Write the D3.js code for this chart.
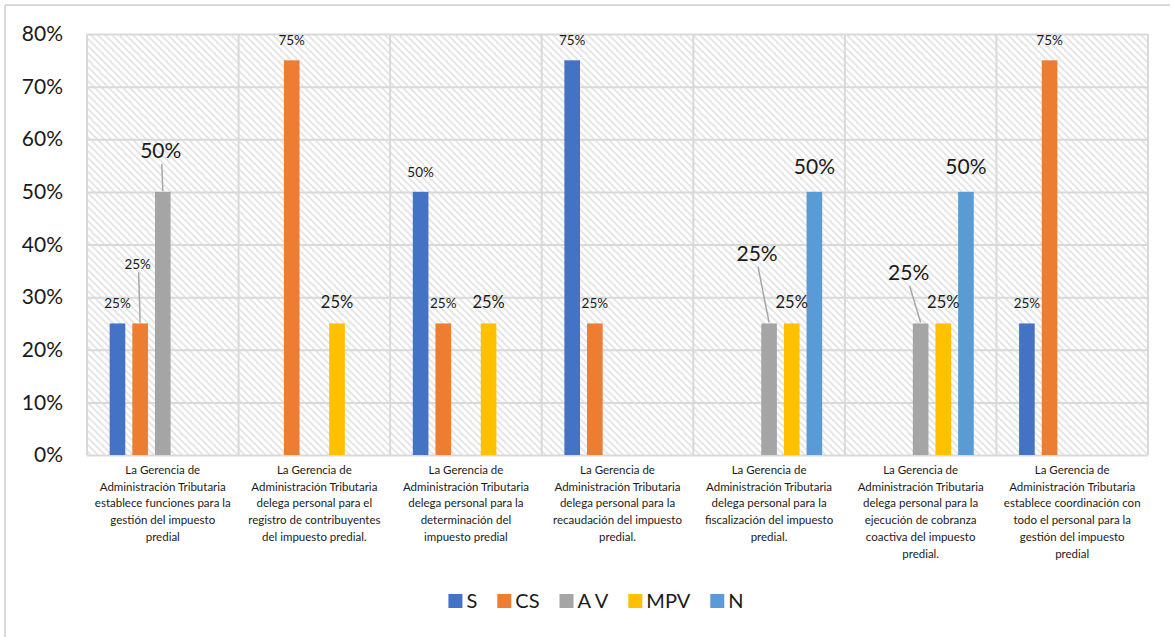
<!DOCTYPE html>
<html>
<head>
<meta charset="utf-8">
<script src="https://cdn.jsdelivr.net/npm/d3@7"></script>
<style>
  html, body { margin: 0; padding: 0; background: #fff; }
  svg { display: block; font-family: Lato, "Open Sans", sans-serif; }
</style>
</head>
<body>
<svg id="chart" width="1174" height="637"></svg>
<script>
// Categories (line breaks follow the axis label wrapping)
const categories = [
  "La Gerencia de\nAdministración Tributaria\nestablece funciones para la\ngestión del impuesto\npredial",
  "La Gerencia de\nAdministración Tributaria\ndelega personal para el\nregistro de contribuyentes\ndel impuesto predial.",
  "La Gerencia de\nAdministración Tributaria\ndelega personal para la\ndeterminación del\nimpuesto predial",
  "La Gerencia de\nAdministración Tributaria\ndelega personal para la\nrecaudación del impuesto\npredial.",
  "La Gerencia de\nAdministración Tributaria\ndelega personal para la\nfiscalización del impuesto\npredial.",
  "La Gerencia de\nAdministración Tributaria\ndelega personal para la\nejecución de cobranza\ncoactiva del impuesto\npredial.",
  "La Gerencia de\nAdministración Tributaria\nestablece coordinación con\ntodo el personal para la\ngestión del impuesto\npredial"
];

const seriesNames = ["S", "CS", "A V", "MPV", "N"];

// Percentages per series, one value per category
const valuesS   = [25, 0, 50, 75, 0, 0, 25];
const valuesCS  = [25, 75, 25, 25, 0, 0, 75];
const valuesAV  = [50, 0, 0, 0, 25, 25, 0];
const valuesMPV = [0, 25, 25, 0, 25, 25, 0];
const valuesN   = [0, 0, 0, 0, 50, 50, 0];

const yTicks = [0, 10, 20, 30, 40, 50, 60, 70, 80];

const seriesValues = [valuesS, valuesCS, valuesAV, valuesMPV, valuesN];
const colors = ["#4472C4", "#ED7D31", "#A5A5A5", "#FFC000", "#5B9BD5"];

// Data label appearance: font size class and optional offset (for labels moved away with a leader line)
const labelSize = { small: 13.5, medium: 16.5, large: 21 };
const labelStyle = {
  "0-1": { size: "small", dx: -2.5, dy: -59.5, leader: true },
  "0-2": { size: "large", dx: -2, dy: -41, leader: true },
  "1-3": { size: "medium", dy: -21 },
  "2-3": { size: "medium", dy: -21 },
  "4-2": { size: "large", dx: -12, dy: -69.5, leader: true },
  "4-3": { size: "medium", dy: -21 },
  "4-4": { size: "large", dy: -25 },
  "5-2": { size: "large", dx: -12, dy: -50.5, leader: true },
  "5-3": { size: "medium", dy: -21 },
  "5-4": { size: "large", dy: -25 }
};

const svg = d3.select("#chart");
const plot = { left: 87, right: 1148, top: 34, bottom: 455 };

// Outer frame (top and left edges)
svg.append("line").attr("x1", 5).attr("x2", 1170).attr("y1", 5).attr("y2", 5)
  .attr("stroke", "#d9d9d9").attr("stroke-width", 2);
svg.append("line").attr("x1", 5).attr("x2", 5).attr("y1", 5).attr("y2", 637)
  .attr("stroke", "#d9d9d9").attr("stroke-width", 2);

// Downward diagonal hatch for the plot background
const defs = svg.append("defs");
const pat = defs.append("pattern").attr("id", "hatch")
  .attr("patternUnits", "userSpaceOnUse").attr("width", 7).attr("height", 7);
pat.append("rect").attr("width", 7).attr("height", 7).attr("fill", "#fff");
pat.append("path")
  .attr("d", "M-2,-2 L9,9 M-2,5 L2,9 M5,-2 L9,2")
  .attr("stroke", "#e4e4e4").attr("stroke-width", 1.8);

const y = d3.scaleLinear().domain([0, 80]).range([plot.bottom, plot.top]);
const x0 = d3.scaleBand().domain(d3.range(categories.length))
  .range([plot.left, plot.right]).padding(0);
const x1 = d3.scaleBand().domain(d3.range(seriesNames.length))
  .range([0, x0.bandwidth()]).paddingInner(0.31).paddingOuter(1.0);

svg.append("rect")
  .attr("x", plot.left).attr("y", plot.top)
  .attr("width", plot.right - plot.left).attr("height", plot.bottom - plot.top)
  .attr("fill", "url(#hatch)");

// Horizontal gridlines
svg.append("g")
  .attr("transform", `translate(${plot.left},0)`)
  .call(d3.axisLeft(y).tickValues(yTicks).tickSize(-(plot.right - plot.left)).tickFormat(""))
  .call(g => g.select(".domain").remove())
  .call(g => g.selectAll("line").attr("stroke", "#d9d9d9").attr("stroke-width", 2));

// Vertical gridlines at category boundaries
const bounds = d3.range(categories.length + 1).map(i =>
  i < categories.length ? x0(i) : x0(categories.length - 1) + x0.bandwidth());
svg.append("g").selectAll("line").data(bounds).join("line")
  .attr("x1", d => d).attr("x2", d => d)
  .attr("y1", plot.top).attr("y2", plot.bottom)
  .attr("stroke", "#d9d9d9").attr("stroke-width", 2);

// Y axis labels
svg.append("g")
  .attr("transform", `translate(${plot.left},0)`)
  .call(d3.axisLeft(y).tickValues(yTicks).tickSize(0).tickPadding(24).tickFormat(d => d + "%"))
  .call(g => g.select(".domain").remove())
  .call(g => g.selectAll("text").attr("font-size", 21).attr("fill", "#1a1a1a")
    .attr("font-family", "Lato, sans-serif"));

// Bars
const flat = [];
categories.forEach((c, ci) => {
  seriesValues.forEach((vals, si) => {
    if (vals[ci] > 0) flat.push({ ci, si, v: vals[ci] });
  });
});

svg.append("g").selectAll("rect").data(flat).join("rect")
  .attr("x", d => x0(d.ci) + x1(d.si))
  .attr("y", d => y(d.v))
  .attr("width", x1.bandwidth())
  .attr("height", d => y(0) - y(d.v))
  .attr("fill", d => colors[d.si]);

// Data labels with leader lines where moved
const lab = svg.append("g");
flat.forEach(d => {
  const st = labelStyle[d.ci + "-" + d.si] || { size: "small", dy: -20 };
  const cx = x0(d.ci) + x1(d.si) + x1.bandwidth() / 2;
  const top = y(d.v);
  const lx = cx + (st.dx || 0);
  const ly = top + st.dy;
  const fs = labelSize[st.size];
  if (st.leader) {
    lab.append("line")
      .attr("x1", lx + 1).attr("y1", ly + fs * 0.62)
      .attr("x2", cx).attr("y2", top - 1)
      .attr("stroke", "#a6a6a6").attr("stroke-width", 1.5);
  }
  lab.append("text")
    .attr("x", lx).attr("y", ly).attr("dy", "0.36em")
    .attr("text-anchor", "middle")
    .attr("font-size", fs).attr("fill", "#1a1a1a")
    .text(d.v + "%");
});

// Category labels
const catG = svg.append("g");
categories.forEach((c, ci) => {
  const t = catG.append("text")
    .attr("x", x0(ci) + x0.bandwidth() / 2)
    .attr("y", 470)
    .attr("text-anchor", "middle")
    .attr("font-size", 11.5).attr("fill", "#1a1a1a");
  c.split("\n").forEach((line, li) => {
    t.append("tspan").attr("x", x0(ci) + x0.bandwidth() / 2)
      .attr("y", 470 + li * 16.7).attr("dy", "0.35em").text(line);
  });
});

// Legend
const legend = svg.append("g");
const items = seriesNames.map((name, i) => {
  const g = legend.append("g");
  g.append("rect").attr("width", 14).attr("height", 14).attr("y", -7).attr("fill", colors[i]);
  const t = g.append("text").attr("x", 18).attr("dy", "0.36em")
    .attr("font-size", 20).attr("fill", "#1a1a1a").text(name);
  return { g, w: 18 + t.node().getComputedTextLength() };
});
const gap = 20;
const total = d3.sum(items, d => d.w) + gap * (items.length - 1);
let cx = 596 - total / 2;
items.forEach(it => {
  it.g.attr("transform", `translate(${cx},601)`);
  cx += it.w + gap;
});
</script>
</body>
</html>
